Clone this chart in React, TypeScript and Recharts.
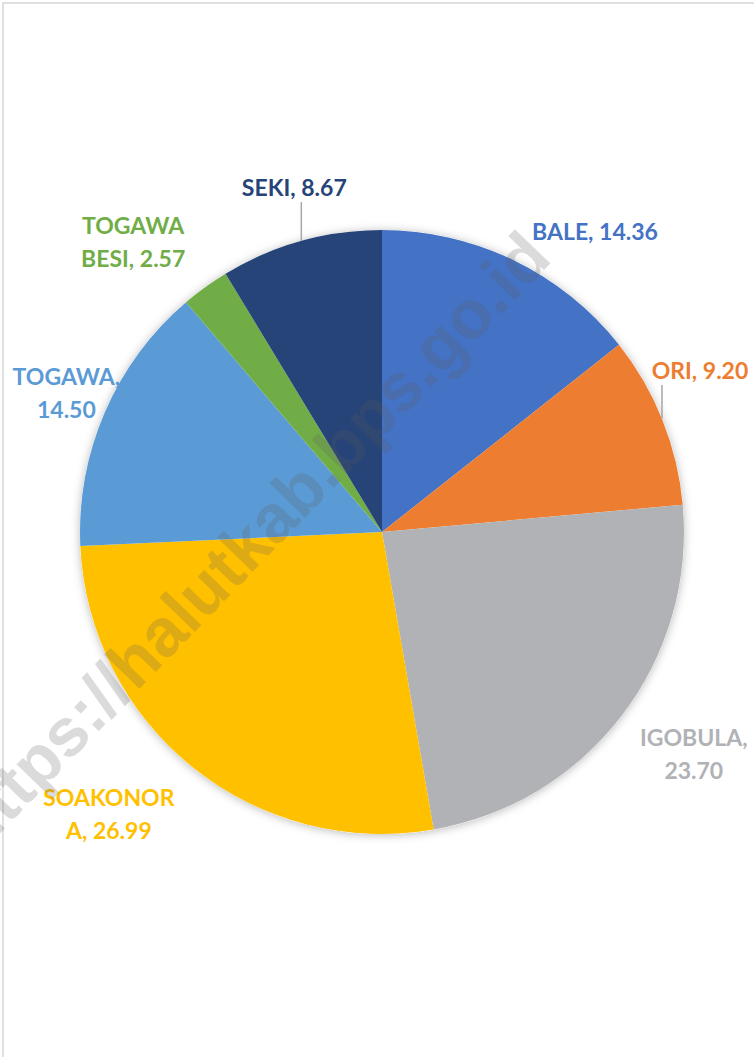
import { Cell, Pie, PieChart } from "recharts"

const villages = ["BALE", "ORI", "IGOBULA", "SOAKONORA", "TOGAWA", "TOGAWA BESI", "SEKI"]
const shares = [14.36, 9.2, 23.7, 26.99, 14.5, 2.57, 8.67]
const colors = ["#4472C4", "#ED7D31", "#B0B2B5", "#FFC000", "#5B9BD5", "#70AD47", "#264478"]

const data = villages.map((name, i) => ({ name, value: shares[i] }))
const whole = [{ name: "all", value: shares.reduce((s, v) => s + v, 0) }]

// label placement, tuned by eye: angle nudge (deg, clockwise), distance as a factor of the radius,
// where the text wraps, and an optional leader line
const labelLayout = [
  { dA: 9.5, f: 1.219, split: 0 },
  { dA: -5.1, f: 1.18, split: 0, leaderDx: -38 },
  { dA: -2.0, f: 1.268, split: 8 },
  { dA: 5.3, f: 1.301, split: 8 },
  { dA: 0.35, f: 1.142, split: 7 },
  { dA: -4.8, f: 1.265, split: 6 },
  { dA: 1.3, f: 1.175, split: 0, leaderDx: 7 },
]

const FONT = 23
const LINE_H = 33

const renderLabel = (props: any) => {
  const { cx, cy, midAngle, outerRadius, index } = props
  const lay = labelLayout[index]
  const a = ((90 - midAngle + lay.dA) * Math.PI) / 180
  const r = outerRadius * lay.f
  const x = cx + r * Math.sin(a)
  const y = cy - r * Math.cos(a)
  const full = `${villages[index]}, ${shares[index].toFixed(2)}`
  const lines = lay.split ? [full.slice(0, lay.split).trim(), full.slice(lay.split).trim()] : [full]
  const top = y - ((lines.length - 1) * LINE_H) / 2
  let leader = null
  if (lay.leaderDx !== undefined) {
    const lx = x + lay.leaderDx
    const ddx = lx - cx
    const edgeY = cy - Math.sqrt(outerRadius * outerRadius - ddx * ddx)
    leader = <line x1={lx} x2={lx} y1={y + 14} y2={edgeY} stroke="#A6A6A6" strokeWidth={1.5} />
  }
  return (
    <g key={`lbl-${index}`}>
      {leader}
      <text
        x={x}
        textAnchor="middle"
        fill={colors[index]}
        fontFamily="Lato, 'Open Sans', sans-serif"
        fontWeight={700}
        fontSize={FONT}
      >
        {lines.map((ln, i) => (
          <tspan key={i} x={x} y={top + i * LINE_H + FONT * 0.36}>
            {ln}
          </tspan>
        ))}
      </text>
    </g>
  )
}

export default function App() {
  return (
    <div style={{ position: "absolute", left: 0, top: 0, width: 754, height: 1057, overflow: "hidden", background: "#fff" }}>
      <div
        style={{
          position: "absolute",
          left: 2,
          top: 2,
          width: 800,
          height: 1100,
          border: "2px solid #e0e0e0",
        }}
      />
      <PieChart
        width={754}
        height={1057}
        margin={{ top: 0, right: 0, bottom: 0, left: 0 }}
        style={{ position: "absolute", left: 0, top: 0 }}
      >
        <defs>
          <filter id="pieShadow" x="-20%" y="-20%" width="140%" height="140%">
            <feDropShadow dx="0" dy="1" stdDeviation="5" floodColor="#000" floodOpacity="0.28" />
          </filter>
        </defs>
        <Pie
          data={whole}
          dataKey="value"
          cx={382}
          cy={532}
          outerRadius={302}
          startAngle={90}
          endAngle={-270}
          stroke="none"
          fill="#fff"
          style={{ filter: "url(#pieShadow)" }}
          isAnimationActive={false}
        />
        <Pie
          data={data}
          dataKey="value"
          nameKey="name"
          cx={382}
          cy={532}
          outerRadius={302}
          startAngle={90}
          endAngle={-270}
          stroke="none"
          label={renderLabel}
          labelLine={false}
          isAnimationActive={false}
        >
          {data.map((d, i) => (
            <Cell key={d.name} fill={colors[i]} />
          ))}
        </Pie>
      </PieChart>
      <div
        style={{
          position: "absolute",
          left: 249,
          top: 541,
          transform: "translate(-50%, -50%) rotate(-46deg)",
          whiteSpace: "nowrap",
          fontFamily: "'Liberation Sans', Arial, sans-serif",
          fontWeight: 700,
          fontSize: 68,
          color: "rgba(90, 90, 90, 0.22)",
          pointerEvents: "none",
        }}
      >
        https://halutkab.bps.go.id
      </div>
    </div>
  )
}
